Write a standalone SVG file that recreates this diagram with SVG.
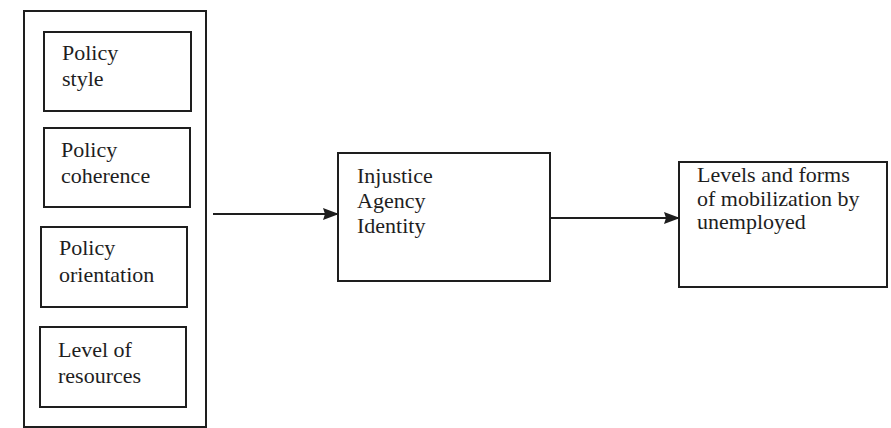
<svg xmlns="http://www.w3.org/2000/svg" width="891" height="428" viewBox="0 0 891 428">
<style>
.box{fill:none;stroke:#1e1e1e;stroke-width:2}
.t{font-family:"Liberation Serif","Times New Roman",serif;font-size:22px;fill:#1e1e1e}
.c{stroke:#1e1e1e;stroke-width:2.2;fill:none}
</style>
<defs>
<marker id="ah" markerWidth="16" markerHeight="12" refX="15" refY="6" orient="auto" markerUnits="userSpaceOnUse">
<path d="M0,0 L16,6 L0,12 L2,6 Z" fill="#1e1e1e"/>
</marker>
</defs>
<rect width="891" height="428" fill="#fff"/>
<g id="outer"><rect class="box" x="24" y="11" width="182" height="416"/></g>
<g id="n1"><rect class="box" x="44" y="32" width="147" height="79"/>
<text class="t" x="62" y="60">Policy</text><text class="t" x="62" y="86">style</text></g>
<g id="n2"><rect class="box" x="44" y="128" width="146" height="79"/>
<text class="t" x="61" y="157">Policy</text><text class="t" x="61" y="183">coherence</text></g>
<g id="n3"><rect class="box" x="41" y="227" width="146" height="80"/>
<text class="t" x="59" y="255">Policy</text><text class="t" x="59" y="282">orientation</text></g>
<g id="n4"><rect class="box" x="40" y="327" width="146" height="80"/>
<text class="t" x="58" y="357">Level of</text><text class="t" x="58" y="383">resources</text></g>
<g id="n5"><rect class="box" x="338" y="153" width="212" height="128"/>
<text class="t" x="357" y="183">Injustice</text><text class="t" x="357" y="208">Agency</text><text class="t" x="357" y="233">Identity</text></g>
<g id="n6"><rect class="box" x="679" y="162" width="208" height="125"/>
<text class="t" x="697" y="182">Levels and forms</text><text class="t" x="697" y="206">of mobilization by</text><text class="t" x="697" y="229">unemployed</text></g>
<g id="connectors">
<line class="c" x1="213" y1="214" x2="338" y2="214" marker-end="url(#ah)"/>
<line class="c" x1="550" y1="218" x2="679" y2="218" marker-end="url(#ah)"/>
</g>
</svg>
